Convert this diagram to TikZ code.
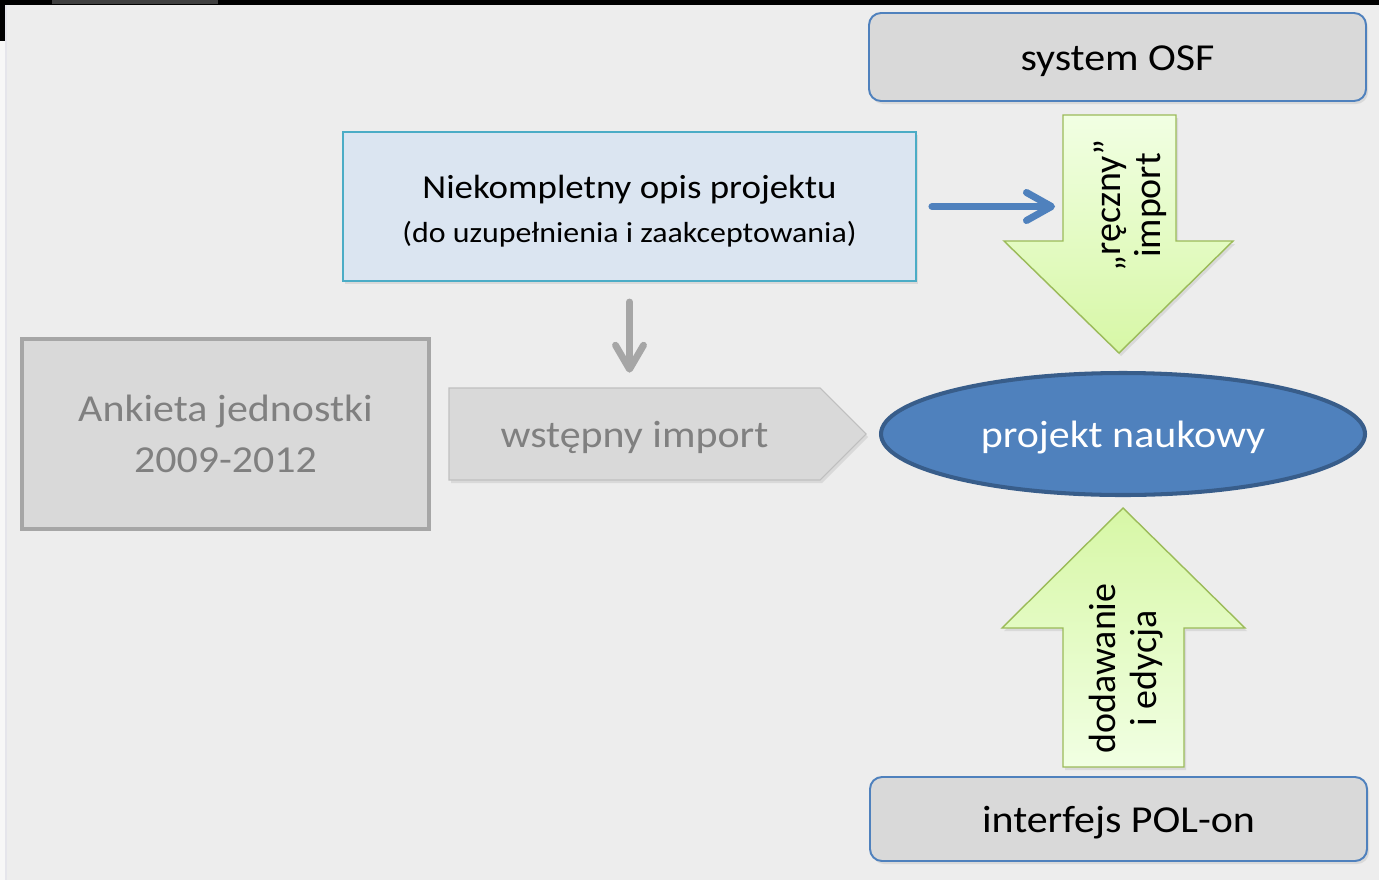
\documentclass[tikz,border=0pt]{standalone}
\usepackage{fontspec}
\setmainfont{Carlito}[FakeStretch=1.1]
\newfontfamily\pionowa{Carlito}
\usepackage{xcolor}
\usetikzlibrary{shapes, positioning, arrows.meta, shadows}

\definecolor{tlo}{HTML}{EDEDED}
\definecolor{szarosc}{HTML}{D9D9D9}
\definecolor{ramkaszara}{HTML}{A6A6A6}
\definecolor{szarytekst}{HTML}{808080}
\definecolor{niebieski}{HTML}{4F81BD}
\definecolor{ciemnoniebieski}{HTML}{385D8A}
\definecolor{jasnoniebieski}{HTML}{DBE5F1}
\definecolor{turkus}{HTML}{4BACC6}
\definecolor{zielen}{HTML}{D7F7A6}
\definecolor{jasnazielen}{HTML}{F1FFE3}
\definecolor{zielonaramka}{HTML}{9BBB59}

\newcommand{\duzy}{\fontsize{21.7}{29}\selectfont}
\newcommand{\sredni}{\pionowa\fontsize{21.6}{23}\selectfont}
\newcommand{\maly}{\fontsize{16.5}{24.5}\selectfont}

\tikzset{
    cien/.style={drop shadow={shadow xshift=0.04cm, shadow yshift=-0.06cm, opacity=0.18}},
    wiersz/.style={text height=0.58cm, text depth=0.04cm},
    ramka/.style={draw=niebieski, line width=1.1pt, fill=szarosc, rounded corners=0.24cm,
        minimum width=9.94cm, inner sep=0pt, font=\duzy, wiersz, cien},
    zielona/.style={draw=zielonaramka, line width=0.8pt, cien},
    pionowy/.style={rotate=90, align=center, font=\sredni, inner sep=0pt},
    strzalka/.style={line cap=round, line join=round},
}

\begin{document}
\begin{tikzpicture}[
        niebieska/.style={strzalka, draw=niebieski, line width=4pt, -{Straight Barb[length=5mm, width=5.6mm, round]}},
        szara/.style={strzalka, draw=ramkaszara, line width=3.9pt, -{Straight Barb[length=4.8mm, width=5.6mm, round]}}
    ]
        % tlo slajdu
        \useasboundingbox (0, 0) rectangle (27.58, -17.6);
        \fill[tlo] (0, 0) rectangle (27.58, -17.6);
        \fill[black!3] (0, -0.82) rectangle (0.1, -17.6);
        \fill[blue!20!black!10] (0.1, -0.1) rectangle (0.14, -17.6);
        \fill[black] (0, 0) rectangle (27.58, -0.1);
        \fill[black] (0, 0) rectangle (0.1, -0.82);
        \fill[black!75] (1.04, 0) rectangle (4.36, -0.08);

        \node[ramka, minimum height=1.76cm] (osf) at (22.35, -1.14) {system OSF};
        \node[ramka, minimum height=1.68cm] (polon) at (22.37, -16.38) {interfejs POL-on};

        \node[draw=turkus, line width=1.1pt, fill=jasnoniebieski, minimum width=11.46cm, minimum height=2.98cm,
            align=center, font=\fontsize{19.1}{24.5}\selectfont, text height=1.54cm, text depth=0.12cm, cien] (opis) at (12.59, -4.13)
            {Niekompletny opis projektu\\{\maly (do uzupełnienia i zaakceptowania)}};

        \node[draw=ramkaszara, line width=2.3pt, fill=szarosc, minimum width=8.14cm, minimum height=3.8cm,
            align=center, font=\duzy, text=szarytekst] (ankieta) at (4.51, -8.68) {Ankieta jednostki\\2009-2012};

        \draw[draw=black!25, line width=0.6pt, fill=szarosc, cien]
            (8.98, -7.76) -- (16.4, -7.76) -- (17.32, -8.68) -- (16.4, -9.6) -- (8.98, -9.6) -- cycle;
        \node[font=\duzy, wiersz, text=szarytekst, minimum width=7.42cm, minimum height=1.84cm] (wstepny) at (12.69, -8.68) {wstępny import};

        \node[ellipse, draw=ciemnoniebieski, line width=2.3pt, fill=niebieski, minimum width=9.68cm, minimum height=2.44cm,
            text=white, font=\duzy, wiersz] (projekt) at (22.46, -8.68) {projekt naukowy};

        % strzalki zielone
        \shade[zielona, top color=jasnazielen, bottom color=zielen]
            (21.26, -2.3) -- (23.52, -2.3) -- (23.52, -4.82) -- (24.66, -4.82) -- (22.38, -7.06) -- (20.08, -4.82) -- (21.26, -4.82) -- cycle;
        \node[pionowy] (reczny) at (22.6, -4.11) {„ręczny”\\import};
        \coordinate (reczny-lewo) at (21.26, -4.13);

        \shade[zielona, top color=zielen, bottom color=jasnazielen]
            (22.46, -10.16) -- (24.9, -12.56) -- (23.68, -12.56) -- (23.68, -15.34) -- (21.26, -15.34) -- (21.26, -12.56) -- (20.04, -12.56) -- cycle;
        \node[pionowy] (dodawanie) at (22.52, -13.37) {dodawanie\\i edycja};

        \draw[niebieska, shorten <=0.3cm, shorten >=0.16cm] (opis.east) -- (reczny-lewo);
        \draw[szara, shorten <=0.4cm, shorten >=0.3cm] (opis.south) -- (opis.south |- wstepny.north);
    \end{tikzpicture}
\end{document}
